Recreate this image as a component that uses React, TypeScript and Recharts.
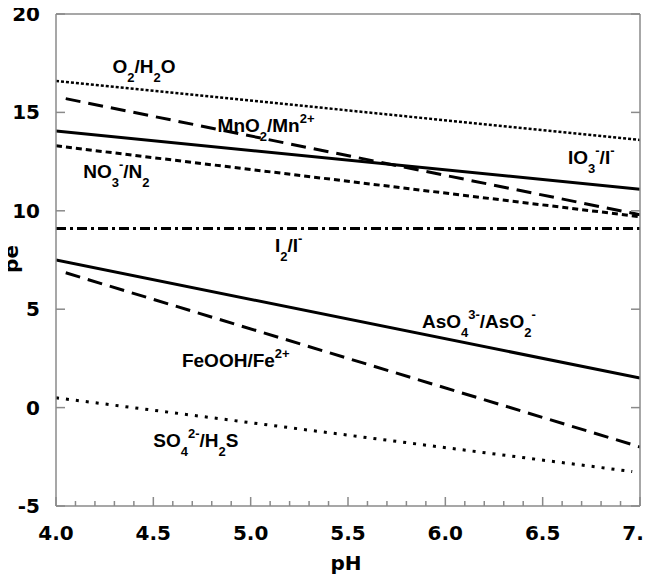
import React from 'react';
import { LineChart, Line, XAxis, YAxis, ReferenceDot } from 'recharts';

// pH end points of each redox couple line
const phFull = [4.0, 7.0];
const phMnFe = [4.05, 7.0];
const phSulfate = [4.0, 6.96];

// pe values at those end points
const peO2 = [16.6, 13.6];
const peMnO2 = [15.7, 9.8];
const peIO3 = [14.05, 11.1];
const peNO3 = [13.3, 9.7];
const peI2 = [9.1, 9.1];
const peAsO4 = [7.5, 1.5];
const peFeOOH = [6.85, -2.0];
const peSO4 = [0.5, -3.25];

const xMajor = [4.0, 4.5, 5.0, 5.5, 6.0, 6.5, 7.0];
const xMinor = Array.from({ length: 31 }, (_, i) => Math.round((4 + i * 0.1) * 10) / 10);
const yMajor = [-5, 0, 5, 10, 15, 20];

const toRows = (ph: number[], pe: number[]) => ph.map((p, i) => ({ ph: p, pe: pe[i] }));

const couples = [
  { key: 'o2', data: toRows(phFull, peO2), dash: '3 2', width: 2.5 },
  { key: 'mno2', data: toRows(phMnFe, peMnO2), dash: '15 8', width: 3 },
  { key: 'io3', data: toRows(phFull, peIO3), dash: undefined, width: 3 },
  { key: 'no3', data: toRows(phFull, peNO3), dash: '6 4', width: 3 },
  { key: 'i2', data: toRows(phFull, peI2), dash: '10 4 3 4', width: 3 },
  { key: 'aso4', data: toRows(phFull, peAsO4), dash: undefined, width: 3 },
  { key: 'feooh', data: toRows(phMnFe, peFeOOH), dash: '15 8', width: 3 },
  { key: 'so4', data: toRows(phSulfate, peSO4), dash: '3 7', width: 3 },
];

type Part = [string, ('sub' | 'sup')?];

// chemical labels: [pH, pe] of the text start/baseline, then text pieces
const labels: { ph: number; pe: number; parts: Part[] }[] = [
  { ph: 4.29, pe: 17.0, parts: [['O'], ['2', 'sub'], ['/H'], ['2', 'sub'], ['O']] },
  { ph: 4.83, pe: 14.0, parts: [['MnO'], ['2', 'sub'], ['/Mn'], ['2+', 'sup']] },
  { ph: 4.14, pe: 11.67, parts: [['NO'], ['3', 'sub'], ['-', 'sup'], ['/N'], ['2', 'sub']] },
  { ph: 6.63, pe: 12.38, parts: [['IO'], ['3', 'sub'], ['-', 'sup'], ['/I'], ['-', 'sup']] },
  { ph: 5.125, pe: 7.9, parts: [['I'], ['2', 'sub'], ['/I'], ['-', 'sup']] },
  { ph: 5.88, pe: 4.04, parts: [['AsO'], ['4', 'sub'], ['3-', 'sup'], ['/AsO'], ['2', 'sub'], ['-', 'sup']] },
  { ph: 4.647, pe: 2.06, parts: [['FeOOH/Fe'], ['2+', 'sup']] },
  { ph: 4.5, pe: -1.99, parts: [['SO'], ['4', 'sub'], ['2-', 'sup'], ['/H'], ['2', 'sub'], ['S']] },
];

const LABEL_FONT = '"Liberation Sans", Arial, sans-serif';
const AXIS_FONT = '"DejaVu Sans", Verdana, sans-serif';
const AXIS = '#8a8a8a';

function ChemText({ x, y, parts }: { x: number; y: number; parts: Part[] }) {
  let shift = 0;
  return (
    <text x={x} y={y} fontFamily={LABEL_FONT} fontWeight="bold" fontSize={19} fill="#000">
      {parts.map(([t, kind], i) => {
        const target = kind === 'sub' ? 9 : kind === 'sup' ? -9 : 0;
        const dy = target - shift;
        shift = target;
        return (
          <tspan key={i} dy={dy} fontSize={kind ? 13 : 19}>
            {t}
          </tspan>
        );
      })}
    </text>
  );
}

const isMajor = (v: number) => xMajor.some(m => Math.abs(m - v) < 1e-6);

function BottomTick({ x, y, payload }: any) {
  const major = isMajor(payload.value);
  return (
    <g>
      <line x1={x} x2={x} y1={y} y2={y - (major ? 9 : 5)} stroke={AXIS} strokeWidth={1.5} />
      {major && (
        <text x={x} y={y + 34} textAnchor="middle" fontFamily={AXIS_FONT} fontWeight="bold" fontSize={20} fill="#000">
          {Number(payload.value).toFixed(1)}
        </text>
      )}
    </g>
  );
}

function TopTick({ x, y, payload }: any) {
  const major = isMajor(payload.value);
  return <line x1={x} x2={x} y1={y} y2={y + (major ? 9 : 5)} stroke={AXIS} strokeWidth={1.5} />;
}

function LeftTick({ x, y, payload }: any) {
  return (
    <g>
      <line x1={x} x2={x + 9} y1={y} y2={y} stroke={AXIS} strokeWidth={1.5} />
      <text x={x - 16} y={y + 7} textAnchor="end" fontFamily={AXIS_FONT} fontWeight="bold" fontSize={20} fill="#000">
        {payload.value}
      </text>
    </g>
  );
}

function RightTick({ x, y }: any) {
  return <line x1={x} x2={x - 9} y1={y} y2={y} stroke={AXIS} strokeWidth={1.5} />;
}

export default function App() {
  return (
    <div style={{ margin: '-8px 0 0 -8px' }}>
      <LineChart width={651} height={575} margin={{ top: 13, right: 10, bottom: 29, left: 16 }}>
        <XAxis
          xAxisId="b"
          dataKey="ph"
          type="number"
          domain={[4, 7]}
          ticks={xMinor}
          interval={0}
          height={40}
          tickSize={0}
          tickMargin={0}
          tickLine={false}
          axisLine={{ stroke: AXIS, strokeWidth: 1.5 }}
          tick={<BottomTick />}
          allowDataOverflow
        />
        <XAxis
          xAxisId="t"
          orientation="top"
          type="number"
          domain={[4, 7]}
          ticks={xMinor}
          interval={0}
          height={1}
          tickSize={0}
          tickMargin={0}
          tickLine={false}
          axisLine={{ stroke: AXIS, strokeWidth: 1.5 }}
          tick={<TopTick />}
          allowDataOverflow
        />
        <YAxis
          yAxisId="l"
          type="number"
          domain={[-5, 20]}
          ticks={yMajor}
          interval={0}
          width={40}
          tickSize={0}
          tickMargin={0}
          tickLine={false}
          axisLine={{ stroke: AXIS, strokeWidth: 1.5 }}
          tick={<LeftTick />}
          allowDataOverflow
        />
        <YAxis
          yAxisId="r"
          orientation="right"
          type="number"
          domain={[-5, 20]}
          ticks={yMajor}
          interval={0}
          width={1}
          tickSize={0}
          tickMargin={0}
          tickLine={false}
          axisLine={{ stroke: AXIS, strokeWidth: 1.5 }}
          tick={<RightTick />}
          allowDataOverflow
        />
        {couples.map(c => (
          <Line
            key={c.key}
            xAxisId="b"
            yAxisId="l"
            data={c.data}
            dataKey="pe"
            type="linear"
            stroke="#000"
            strokeWidth={c.width}
            strokeDasharray={c.dash}
            dot={false}
            activeDot={false}
            isAnimationActive={false}
          />
        ))}
        {labels.map((l, i) => (
          <ReferenceDot
            key={i}
            xAxisId="b"
            yAxisId="l"
            x={l.ph}
            y={l.pe}
            r={0}
            shape={(p: any) => <ChemText x={p.cx} y={p.cy} parts={l.parts} />}
          />
        ))}
        <text x={346} y={570} textAnchor="middle" fontFamily={AXIS_FONT} fontWeight="bold" fontSize={20} fill="#000">
          pH
        </text>
        <g transform="translate(18 259) rotate(-90)">
          <text x={0} y={0} textAnchor="middle" fontFamily={AXIS_FONT} fontWeight="bold" fontSize={20} fill="#000">
            pe
          </text>
        </g>
      </LineChart>
    </div>
  );
}
